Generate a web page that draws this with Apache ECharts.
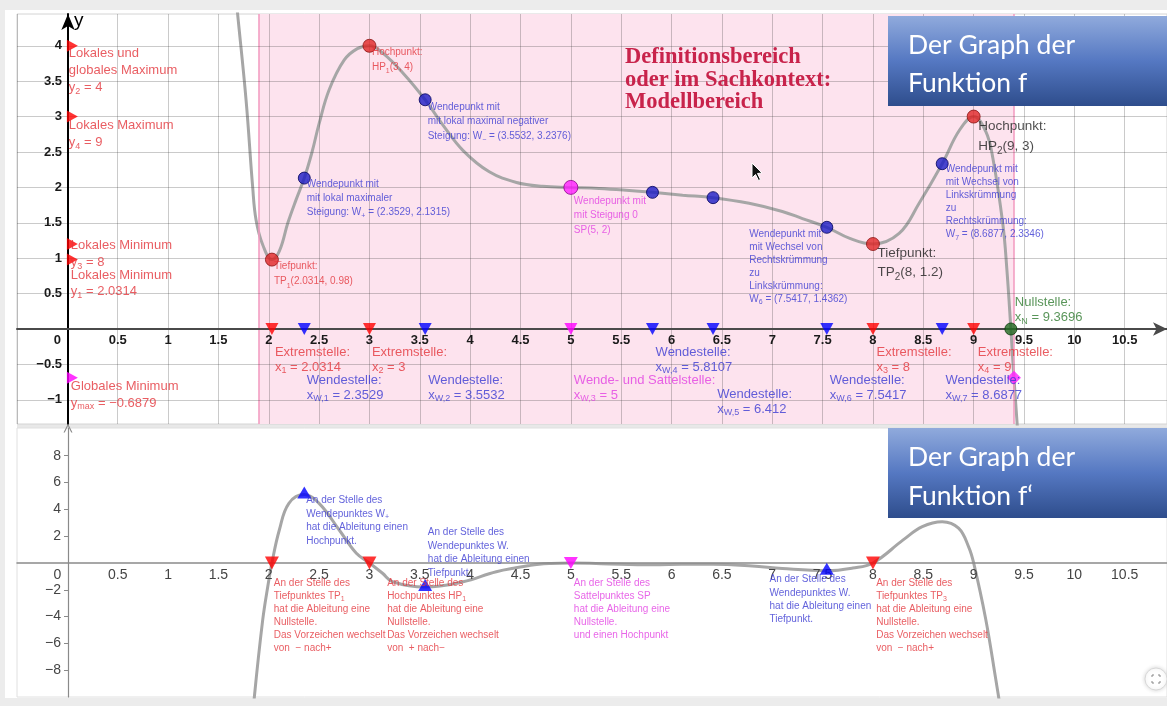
<!DOCTYPE html>
<html lang="de">
<head>
<meta charset="utf-8">
<title>Graph der Funktion f und f′</title>
<script src="https://cdn.jsdelivr.net/npm/echarts@6.0.0/dist/echarts.min.js"></script>
<style>
  html, body { margin: 0; padding: 0; background: #ececec; }
  #chart { width: 1167px; height: 706px; }
</style>
</head>
<body>
<div id="chart"></div>
<script>
// ---------- f : samples along the graph ----------
const fX = [1.66, 1.69, 1.775, 1.84, 1.874, 1.94, 2.0314, 2.105, 2.19, 2.27, 2.3529, 2.43, 2.5, 2.6, 2.75, 2.88, 3,
            3.13, 3.33, 3.5532, 3.73, 3.93, 4.19, 4.46, 4.72, 5, 5.28, 5.55, 5.8107, 6.11, 6.412, 6.77, 7.1, 7.3,
            7.5417, 7.77, 8, 8.26, 8.46, 8.6877, 8.86, 9, 9.12, 9.19, 9.29, 9.33, 9.3696, 9.4, 9.445];
const fY = [4.9, 4.46, 3.23, 2.01, 1.54, 1.19, 0.98, 1.1, 1.5, 1.82, 2.1315, 2.5, 2.9, 3.38, 3.8, 3.96, 4,
            3.9, 3.62, 3.2376, 2.88, 2.52, 2.22, 2.07, 2.015, 2, 1.985, 1.96, 1.93, 1.89, 1.855, 1.775, 1.66, 1.56,
            1.4362, 1.28, 1.2, 1.35, 1.78, 2.3346, 2.81, 3, 2.79, 2.42, 1.48, 0.84, 0, -0.6879, -1.6];

// ---------- f' : samples along the graph of the derivative ----------
const dX = [1.82, 1.857, 1.94, 1.99, 2.0314, 2.105, 2.2, 2.3529, 2.5, 2.7, 2.87, 3, 3.13, 3.23, 3.5532, 3.93,
            4.26, 4.6, 4.8, 5, 5.3, 5.8107, 6.1, 6.412, 6.8, 7.1, 7.5417, 7.8, 8, 8.3, 8.49, 8.6877, 8.85, 8.95,
            9, 9.12, 9.22, 9.26, 9.3];
const dY = [-13.5, -10, -4.25, -1.77, 0, 2.46, 4.45, 5.1, 4.45, 2.46, 0.72, 0, -0.77, -1.4, -1.8, -1.4,
            -0.65, -0.18, -0.04, 0, -0.05, -0.13, -0.1, -0.09, -0.22, -0.42, -0.58, -0.38, 0, 1.72, 2.71, 3.08, 2.6, 1.2,
            0, -4.2, -8.7, -10.6, -13];

// ---------- characteristic points ----------
const extremaX = [2.0314, 3, 8, 9];
const extremaY = [0.98, 4, 1.2, 3];
const inflectionX = [2.3529, 3.5532, 5, 5.8107, 6.412, 7.5417, 8.6877];
const inflectionY = [2.1315, 3.2376, 2, 1.93, 1.855, 1.4362, 2.3346];
const zeroX = 9.3696;
const domain = [1.9, 9.4];
const globalMin = -0.6879;
// extreme values of f' at W+, W-, W6
const slopeX = [2.3529, 3.5532, 7.5417];
const slopeY = [5.1, -1.8, -0.58];

// ---------- ticks ----------
const gridX = [-0.5, 0, 0.5, 1, 1.5, 2, 2.5, 3, 3.5, 4, 4.5, 5, 5.5, 6, 6.5, 7, 7.5, 8, 8.5, 9, 9.5, 10, 10.5];
const topYGrid = [-1, -0.5, 0, 0.5, 1, 1.5, 2, 2.5, 3, 3.5, 4];
const topYTicks = [-1, -0.5, 0.5, 1, 1.5, 2, 2.5, 3, 3.5, 4];
const bottomYTicks = [-8, -6, -4, -2, 2, 4, 6, 8];

const FONT = '"Liberation Sans", Arial, sans-serif';
const RED = '#e3343b', BLUE = '#3a3ad2', MAG = '#e23fe2', BLACK = '#1e1e1e', GREEN = '#2f7a2f';

const fmt = v => String(v).replace('-', '\u2212');

// text with _{...} subscripts -> ECharts rich text
function richText(lines) {
  return lines.map(line => line.split(/(_\{[^}]*\})/).filter(s => s.length)
    .map(s => s.startsWith('_{') ? '{s|' + s.slice(2, -1) + '}' : '{n|' + s + '}').join('')).join('\n');
}
function richStyle(color, fs, lh) {
  const base = { color: color, fontSize: fs, lineHeight: lh, fontFamily: FONT };
  const sfs = Math.round(fs * 0.72);
  return { n: base, s: Object.assign({}, base, { fontSize: sfs, lineHeight: sfs + 1, verticalAlign: 'bottom' }) };
}
function note(at, dx, dy, lines, color, fs, lh) {
  const txt = richText(lines);
  return {
    value: at, symbolSize: 1, itemStyle: { color: 'rgba(0,0,0,0)' },
    label: { show: true, position: [dx, dy], align: 'left', verticalAlign: 'top',
             formatter: () => txt, rich: richStyle(color, fs, lh) }
  };
}

const DOWN = 'path://M0,0 L10,0 L5,9 Z';
const RIGHT = 'path://M0,0 L9,5 L0,10 Z';

// ---------- notes of the upper plot ----------
const topNotes = [
  note([0, extremaY[1]], 2, 0, ['Lokales und', 'globales Maximum', 'y_{2} = 4'], RED, 13, 17),
  note([0, extremaY[3]], 2, 1, ['Lokales Maximum', 'y_{4} = 9'], RED, 13, 17),
  note([0, extremaY[2]], 4, -6, ['Lokales Minimum', 'y_{3} = 8'], RED, 13, 16.5),
  note([0, extremaY[0]], 4, 8, ['Lokales Minimum', 'y_{1} = 2.0314'], RED, 13, 16.5),
  note([0, globalMin], 4, 1, ['Globales Minimum', 'y_{max} = ' + fmt(globalMin)], RED, 13, 16.5),

  note([extremaX[0], extremaY[0]], 2.5, 0, ['Tiefpunkt:', 'TP_{1}(2.0314, 0.98)'], RED, 10, 15),
  note([extremaX[1], extremaY[1]], 3, -1, ['Hochpunkt:', 'HP_{1}(3, 4)'], RED, 10, 15),
  note([inflectionX[0], inflectionY[0]], 3, 0, ['Wendepunkt mit', 'mit lokal maximaler', 'Steigung: W_{+} = (2.3529, 2.1315)'], BLUE, 10, 14),
  note([inflectionX[1], inflectionY[1]], 3, 1, ['Wendepunkt mit', 'mit lokal maximal negativer', 'Steigung: W_{\u2212} = (3.5532, 3.2376)'], BLUE, 10, 14.3),
  note([inflectionX[2], inflectionY[2]], 3.5, 7, ['Wendepunkt mit', 'mit Steigung 0', 'SP(5, 2)'], MAG, 10, 14.5),
  note([inflectionX[5], inflectionY[5]], -77, 1, ['Wendepunkt mit', 'mit Wechsel von', 'Rechtskrümmung', 'zu', 'Linkskrümmung:', 'W_{6} = (7.5417, 1.4362)'], BLUE, 10, 13),
  note([extremaX[2], extremaY[2]], 5, 0, ['Tiefpunkt:', 'TP_{2}(8, 1.2)'], BLACK, 13.5, 19.5),
  note([inflectionX[6], inflectionY[6]], 4, 0, ['Wendepunkt mit', 'mit Wechsel von', 'Linkskrümmung', 'zu', 'Rechtskrümmung:', 'W_{7} = (8.6877, 2.3346)'], BLUE, 10, 13),
  note([extremaX[3], extremaY[3]], 5, 0, ['Hochpunkt:', 'HP_{2}(9, 3)'], BLACK, 13.5, 20),
  note([zeroX, 0], 4.5, -34, ['Nullstelle:', 'x_{N} = ' + zeroX], GREEN, 13, 15.6),

  note([extremaX[0], 0], 3.5, 16.8, ['Extremstelle:', 'x_{1} = ' + extremaX[0]], RED, 13, 15),
  note([extremaX[1], 0], 3, 16.8, ['Extremstelle:', 'x_{2} = ' + extremaX[1]], RED, 13, 15),
  note([extremaX[2], 0], 4, 16.8, ['Extremstelle:', 'x_{3} = ' + extremaX[2]], RED, 13, 15),
  note([extremaX[3], 0], 4.7, 16.8, ['Extremstelle:', 'x_{4} = ' + extremaX[3]], RED, 13, 15),

  note([inflectionX[0], 0], 3, 44.5, ['Wendestelle:', 'x_{W,1} = ' + inflectionX[0]], BLUE, 13, 15),
  note([inflectionX[1], 0], 3.5, 44.5, ['Wendestelle:', 'x_{W,2} = ' + inflectionX[1]], BLUE, 13, 15),
  note([inflectionX[2], 0], 3.5, 44.5, ['Wende- und Sattelstelle:', 'x_{W,3} = ' + inflectionX[2]], MAG, 13, 15),
  note([inflectionX[3], 0], 3.6, 16.3, ['Wendestelle:', 'x_{W,4} = ' + inflectionX[3]], BLUE, 13, 15),
  note([inflectionX[4], 0], 4.6, 58.7, ['Wendestelle:', 'x_{W,5} = ' + inflectionX[4]], BLUE, 13, 15),
  note([inflectionX[5], 0], 3.5, 44.5, ['Wendestelle:', 'x_{W,6} = ' + inflectionX[5]], BLUE, 13, 15),
  note([inflectionX[6], 0], 3.8, 44.5, ['Wendestelle:', 'x_{W,7} = ' + inflectionX[6]], BLUE, 13, 15)
];

// ---------- notes of the derivative plot ----------
const botNotes = [
  note([slopeX[0], slopeY[0]], 2.4, -0.4, ['An der Stelle des', 'Wendepunktes W_{+}', 'hat die Ableitung einen', 'Hochpunkt.'], BLUE, 10, 13.5),
  note([slopeX[1], slopeY[1]], 3.2, -61, ['An der Stelle des', 'Wendepunktes W.', 'hat die Ableitung einen', 'Tiefpunkt.'], BLUE, 10, 13.5),
  note([slopeX[2], slopeY[2]], -56.8, 2.7, ['An der Stelle des', 'Wendepunktes W.', 'hat die Ableitung einen', 'Tiefpunkt.'], BLUE, 10, 13.3),
  note([extremaX[0], 0], 2.4, 14, ['An der Stelle des', 'Tiefpunktes TP_{1}', 'hat die Ableitung eine', 'Nullstelle.', 'Das Vorzeichen wechselt', 'von  \u2212 nach+'], RED, 10, 13),
  note([extremaX[1], 0], 18.2, 14, ['An der Stelle des', 'Hochpunktes HP_{1}', 'hat die Ableitung eine', 'Nullstelle.', 'Das Vorzeichen wechselt', 'von  + nach\u2212'], RED, 10, 13),
  note([inflectionX[2], 0], 3.5, 14, ['An der Stelle des', 'Sattelpunktes SP', 'hat die Ableitung eine', 'Nullstelle.', 'und einen Hochpunkt'], MAG, 10, 13),
  note([extremaX[2], 0], 3.7, 14, ['An der Stelle des', 'Tiefpunktes TP_{3}', 'hat die Ableitung eine', 'Nullstelle.', 'Das Vorzeichen wechselt', 'von  \u2212 nach+'], RED, 10, 13)
];

// ---------- markers ----------
const dot = (x, y, color, border, size) => ({ value: [x, y], symbol: 'circle', symbolSize: size,
  itemStyle: { color: color, borderColor: border, borderWidth: 1 } });
const topMarks = [];
extremaX.forEach((x, i) => topMarks.push(dot(x, extremaY[i], '#e02626', '#8a1414', 13)));
inflectionX.forEach((x, i) => topMarks.push(i === 2 ? dot(x, inflectionY[i], '#ff1fff', '#8a008a', 14)
                                                    : dot(x, inflectionY[i], '#1c1cc4', '#00005a', 12)));
topMarks.push(dot(zeroX, 0, '#1f6a1f', '#0c3a0c', 12));
topMarks.push({ value: [domain[1], globalMin], symbol: 'diamond', symbolSize: 14, itemStyle: { color: '#ff1fff' } });
extremaX.forEach(x => topMarks.push({ value: [x, 0], symbol: DOWN, symbolSize: [13, 12], itemStyle: { color: '#ff0000' } }));
inflectionX.forEach((x, i) => topMarks.push({ value: [x, 0], symbol: DOWN, symbolSize: [13, 12],
  itemStyle: { color: i === 2 ? '#ff00ff' : '#0000ff' } }));
[extremaY[1], extremaY[3], extremaY[2], extremaY[0]].forEach(y => topMarks.push({ value: [0, y], symbol: RIGHT,
  symbolSize: [11, 12], symbolOffset: [5, 0], itemStyle: { color: '#ff0000' } }));
topMarks.push({ value: [0, globalMin], symbol: RIGHT, symbolSize: [11, 12], symbolOffset: [5, 0], itemStyle: { color: '#ff00ff' } });

const botMarks = [];
[extremaX[0], extremaX[1], extremaX[2]].forEach(x => botMarks.push({ value: [x, 0], symbol: DOWN, symbolSize: [14, 13], itemStyle: { color: '#ff0000' } }));
botMarks.push({ value: [inflectionX[2], 0], symbol: DOWN, symbolSize: [14, 12], itemStyle: { color: '#ff00ff' } });
slopeX.forEach((x, i) => botMarks.push({ value: [x, slopeY[i]], symbol: 'triangle', symbolSize: [14, 12],
  symbolOffset: [0, -2], itemStyle: { color: '#0000ff' } }));

// ---------- axes ----------
const xLabel = v => (v < 0 || v > 10.5) ? '' : (v === 0 ? '{o|0}' : fmt(v));
const axisTextTop = { color: '#1a1a1a', fontWeight: 'bold', fontSize: 13, fontFamily: FONT };
const axisTextBot = { color: '#444', fontSize: 14, fontFamily: FONT };

// plot frames (pixels) and the pixel distance of each zero line from the frame edge
const TOP = { left: 17, top: 14, width: 1150, height: 410 };
const BOT = { left: 17, top: 428, width: 1150, height: 269 };
const X0_FROM_LEFT = 51;      // y-axis (x = 0) inside both frames
const Y0_TOP_FROM_BOTTOM = 95;
const Y0_BOT_FROM_BOTTOM = 134;

const titleFill = () => new echarts.graphic.LinearGradient(0, 0, 0, 1, [
  { offset: 0, color: '#90aadc' }, { offset: 0.5, color: '#5578c2' }, { offset: 1, color: '#2e4d8c' }]);

const option = {
  animation: false,
  backgroundColor: '#ececec',
  grid: [
    Object.assign({ show: true, backgroundColor: '#fff', borderColor: '#d4d4d4', borderWidth: 1, containLabel: false, outerBoundsMode: 'none' }, TOP),
    Object.assign({ show: true, backgroundColor: '#fff', borderColor: '#e0e0e0', borderWidth: 1, containLabel: false, outerBoundsMode: 'none' }, BOT)
  ],
  xAxis: [
    { gridIndex: 0, type: 'value', min: -0.5, max: 10.92, interval: 0.5, z: 5, position: 'bottom', offset: -Y0_TOP_FROM_BOTTOM,
      axisLine: { onZero: false, lineStyle: { color: '#4a4a4a', width: 2 }, symbol: ['none', 'arrow'], symbolSize: [10, 14] },
      axisTick: { show: false }, splitLine: { show: false },
      axisLabel: Object.assign({ margin: 5, formatter: xLabel,
        rich: { o: Object.assign({ padding: [0, 20, 0, 0] }, axisTextTop) } }, axisTextTop) },
    { gridIndex: 1, type: 'value', min: -0.5, max: 10.92, interval: 0.5, z: 5, position: 'bottom', offset: -Y0_BOT_FROM_BOTTOM,
      axisLine: { onZero: false, lineStyle: { color: '#8a8a8a', width: 1.5 } },
      axisTick: { show: false }, splitLine: { show: false },
      axisLabel: Object.assign({ margin: 5, formatter: xLabel,
        rich: { o: Object.assign({ padding: [0, 20, 0, 0] }, axisTextBot) } }, axisTextBot) }
  ],
  yAxis: [
    { gridIndex: 0, type: 'value', min: -1.342, max: 4.449, z: 5, position: 'left', offset: -X0_FROM_LEFT,
      axisLine: { onZero: false, lineStyle: { color: '#000', width: 2 }, symbol: ['none', 'arrow'], symbolSize: [10, 16] },
      axisTick: { show: false }, splitLine: { show: false },
      axisLabel: Object.assign({ margin: 6, formatter: fmt, customValues: topYTicks }, axisTextTop),
      name: 'y', nameLocation: 'end', nameGap: -7,
      nameTextStyle: { color: '#000', fontSize: 19, fontFamily: FONT, align: 'left', verticalAlign: 'middle', padding: [0, 0, 0, 6] } },
    { gridIndex: 1, type: 'value', min: -10, max: 10.07, interval: 2, z: 5, position: 'left', offset: -X0_FROM_LEFT,
      axisLine: { onZero: false, lineStyle: { color: '#8a8a8a', width: 1.2 },
                  symbol: ['none', 'path://M0,10 L5,0 L10,10 L8.6,10 L5,2.8 L1.4,10 Z'], symbolSize: [10, 9] },
      axisTick: { show: true, length: 4, customValues: bottomYTicks, lineStyle: { color: '#8a8a8a' } },
      splitLine: { show: false },
      axisLabel: Object.assign({ margin: 7, formatter: fmt, customValues: bottomYTicks }, axisTextBot) }
  ],
  series: [
    // definition range
    { type: 'line', xAxisIndex: 0, yAxisIndex: 0, data: [], z: 1, silent: true,
      markArea: { silent: true, itemStyle: { color: '#fde3ee' }, data: [[{ xAxis: domain[0] }, { xAxis: domain[1] }]] },
      markLine: { silent: true, symbol: ['none', 'none'], label: { show: false },
        lineStyle: { color: '#f29abf', width: 1.5, type: 'solid' }, data: domain.map(v => ({ xAxis: v })) } },
    // coordinate grid
    { type: 'line', xAxisIndex: 0, yAxisIndex: 0, data: [], z: 2, silent: true,
      markLine: { silent: true, symbol: ['none', 'none'], label: { show: false },
        lineStyle: { color: 'rgba(60,60,60,0.27)', width: 1, type: 'solid' },
        data: gridX.map(v => ({ xAxis: v })).concat(topYGrid.map(v => ({ yAxis: v }))) } },
    // graph of f
    { type: 'line', xAxisIndex: 0, yAxisIndex: 0, z: 3, smooth: 0.4, showSymbol: false, silent: true,
      lineStyle: { color: '#a6a6a6', width: 3 }, data: fX.map((x, i) => [x, fY[i]]) },
    // graph of f'
    { type: 'line', xAxisIndex: 1, yAxisIndex: 1, z: 3, smooth: 0.4, showSymbol: false, silent: true,
      lineStyle: { color: '#a6a6a6', width: 3 }, data: dX.map((x, i) => [x, dY[i]]) },
    { type: 'scatter', xAxisIndex: 0, yAxisIndex: 0, z: 6, silent: true, data: topMarks },
    { type: 'scatter', xAxisIndex: 1, yAxisIndex: 1, z: 6, silent: true, data: botMarks },
    { type: 'scatter', xAxisIndex: 0, yAxisIndex: 0, z: 7, silent: true, data: topNotes },
    { type: 'scatter', xAxisIndex: 1, yAxisIndex: 1, z: 7, silent: true, data: botNotes }
  ],
  graphic: [
    { type: 'rect', z: -10, shape: { x: 5, y: 10, width: 1162, height: 688 }, style: { fill: '#fff' } },
    { type: 'rect', z: -9, shape: { x: 17, y: 424, width: 1150, height: 4 }, style: { fill: '#e8e8e8' } },
    { type: 'text', z: 20, left: 625, top: 46,
      style: { text: 'Definitionsbereich\noder im Sachkontext:\nModellbereich', fill: '#c8234b',
               font: 'bold 22.5px "Liberation Serif", serif', lineHeight: 22.5 } },
    // title boxes
    { type: 'rect', z: 40, left: 888, top: 16, shape: { width: 279, height: 90 }, style: { fill: titleFill() } },
    { type: 'text', z: 41, left: 908, top: 26, style: { text: 'Der Graph der\nFunktion f', fill: '#fff', font: '26.5px Lato, "Open Sans", sans-serif', lineHeight: 38 } },
    { type: 'rect', z: 40, left: 888, top: 428, shape: { width: 279, height: 90 }, style: { fill: titleFill() } },
    { type: 'text', z: 41, left: 908, top: 438, style: { text: 'Der Graph der\nFunktion f\u2018', fill: '#fff', font: '26.5px Lato, "Open Sans", sans-serif', lineHeight: 39 } },
    // pointer arrow
    { type: 'polygon', z: 30, shape: { points: [[752, 163], [752, 178], [755.5, 174.5], [758.5, 180.5], [760.5, 179.5], [757.5, 173.5], [762, 173]] },
      style: { fill: '#111', stroke: '#fff', lineWidth: 1 } },
    // full-screen button
    { type: 'circle', z: 30, shape: { cx: 1156, cy: 679, r: 11 }, style: { fill: '#fff', stroke: '#d8d8d8', lineWidth: 1, shadowBlur: 4, shadowColor: 'rgba(0,0,0,0.15)' } },
    { type: 'polyline', z: 31, shape: { points: [[1152, 677], [1152, 675], [1154, 675]] }, style: { stroke: '#888', lineWidth: 1, fill: null } },
    { type: 'polyline', z: 31, shape: { points: [[1158, 675], [1160, 675], [1160, 677]] }, style: { stroke: '#888', lineWidth: 1, fill: null } },
    { type: 'polyline', z: 31, shape: { points: [[1152, 681], [1152, 683], [1154, 683]] }, style: { stroke: '#888', lineWidth: 1, fill: null } },
    { type: 'polyline', z: 31, shape: { points: [[1158, 683], [1160, 683], [1160, 681]] }, style: { stroke: '#888', lineWidth: 1, fill: null } }
  ]
};

const chart = echarts.init(document.getElementById('chart'), null, { renderer: 'canvas' });
chart.setOption(option);
</script>
</body>
</html>
